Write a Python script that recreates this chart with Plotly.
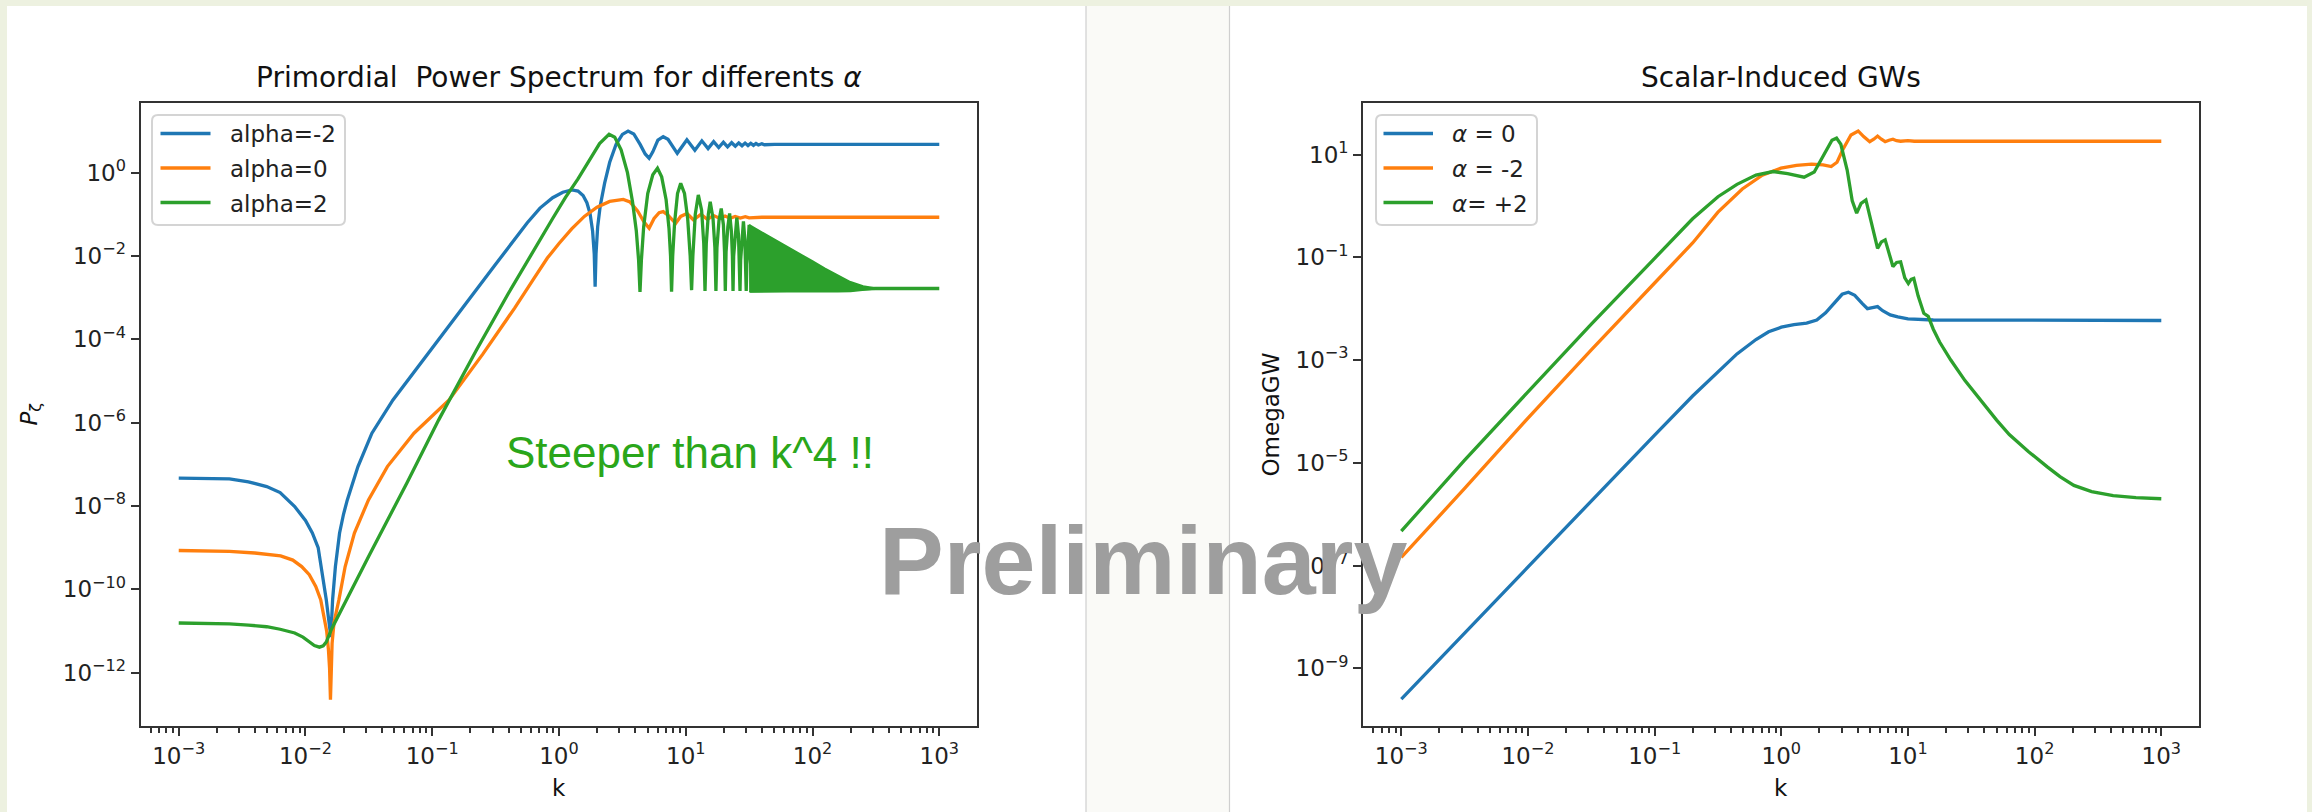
import math
import plotly.graph_objects as go

W, H = 2312, 812

# ---------------- Primordial power spectrum: log10(k), log10(P_zeta) ----------------
pz_am2_lk = [-3.0, -2.8, -2.6, -2.45, -2.306, -2.2, -2.085, -2.0, -1.946, -1.9, -1.875, -1.855,
             -1.836, -1.82, -1.808, -1.80, -1.793, -1.786, -1.764, -1.731, -1.70, -1.67, -1.586,
             -1.476, -1.31, -1.1, -0.9, -0.7, -0.5, -0.35, -0.25, -0.15, -0.05, 0.03, 0.102, 0.15,
             0.19, 0.22, 0.245, 0.265, 0.278, 0.285, 0.292, 0.305, 0.325, 0.36, 0.40, 0.45, 0.50,
             0.545, 0.59, 0.64, 0.68, 0.711, 0.74, 0.78, 0.822, 0.86, 0.9, 0.933,
             1.009, 1.072, 1.127, 1.176, 1.22, 1.26, 1.297, 1.33, 1.362, 1.391, 1.418, 1.444,
             1.468, 1.491, 1.513, 1.534, 1.554, 1.573, 1.6, 1.62, 1.7, 3.0]
pz_am2_lp = [-7.33, -7.335, -7.35, -7.42, -7.535, -7.68, -8.015, -8.35, -8.65, -9.0, -9.455, -9.85,
             -10.25, -10.65, -10.97, -11.15, -10.7, -10.25, -9.455, -8.65, -8.2, -7.855, -7.055,
             -6.254, -5.455, -4.6, -3.8, -3.0, -2.2, -1.6, -1.2, -0.85, -0.6, -0.47, -0.415, -0.44,
             -0.55, -0.72, -0.98, -1.4, -1.95, -2.74, -1.95, -1.3, -0.8, -0.25, 0.25, 0.68, 0.92,
             1.0, 0.93, 0.68, 0.45, 0.345, 0.5, 0.78, 0.864, 0.8, 0.6, 0.465,
             0.79, 0.54, 0.765, 0.58, 0.745, 0.605, 0.73, 0.62, 0.72, 0.635, 0.715, 0.645,
             0.71, 0.65, 0.705, 0.655, 0.70, 0.665, 0.695, 0.67, 0.68, 0.68]

pz_a0_lk = [-3.0, -2.8, -2.6, -2.4, -2.196, -2.1, -2.03, -1.97, -1.919, -1.88, -1.852, -1.833,
            -1.819, -1.81, -1.803, -1.797, -1.79, -1.775, -1.736, -1.687, -1.614, -1.503, -1.354,
            -1.144, -0.867, -0.6, -0.35, -0.2, -0.092, 0.0, 0.1, 0.2, 0.3, 0.4, 0.507, 0.56, 0.62,
            0.67, 0.711, 0.75, 0.79, 0.822, 0.86, 0.92, 0.96, 1.01, 1.06, 1.12, 1.17, 1.22, 1.27,
            1.31, 1.35, 1.39, 1.43, 1.47, 1.5, 1.6, 3.0]
pz_a0_lp = [-9.07, -9.075, -9.09, -9.13, -9.2, -9.3, -9.455, -9.65, -9.93, -10.25, -10.65, -11.0,
            -11.45, -11.9, -12.65, -11.9, -11.3, -10.8, -10.25, -9.455, -8.65, -7.855, -7.055,
            -6.254, -5.455, -4.35, -3.25, -2.55, -2.05, -1.7, -1.35, -1.05, -0.83, -0.69, -0.64,
            -0.7, -0.92, -1.18, -1.335, -1.1, -0.96, -0.935, -1.02, -1.215, -1.05, -0.98, -1.13,
            -1.0, -1.12, -1.03, -1.1, -1.04, -1.095, -1.05, -1.09, -1.055, -1.085, -1.07, -1.07]

pz_ap2_lk = [-3.0, -2.8, -2.6, -2.45, -2.306, -2.2, -2.085, -2.02, -1.974, -1.93, -1.89, -1.86,
             -1.836, -1.815, -1.797, -1.5, -1.2, -0.95, -0.65, -0.4, -0.2, -0.05, 0.05, 0.15, 0.25,
             0.32, 0.395, 0.44, 0.49, 0.54, 0.58, 0.61, 0.628, 0.639, 0.65, 0.668, 0.70, 0.74,
             0.777, 0.81, 0.845, 0.868, 0.88, 0.888, 0.897, 0.912, 0.935, 0.96, 0.99, 1.015,
             1.035, 1.046, 1.056, 1.075, 1.099, 1.125, 1.142, 1.152, 1.162, 1.178, 1.193, 1.215,
             1.23, 1.238, 1.246, 1.262, 1.28, 1.297, 1.306, 1.312, 1.318, 1.332, 1.346, 1.36,
             1.368, 1.373, 1.378, 1.39, 1.403, 1.416, 1.423, 1.428, 1.433, 1.444, 1.455, 1.466,
             1.472, 1.477, 1.482, 1.492, 1.5, 1.52, 2.5, 3.0]
pz_ap2_lp = [-10.81, -10.815, -10.83, -10.86, -10.9, -10.96, -11.05, -11.15, -11.26, -11.35,
             -11.39, -11.36, -11.27, -11.12, -10.97, -9.2, -7.45, -5.94, -4.25, -2.9, -1.85, -1.1,
             -0.6, -0.15, 0.35, 0.7, 0.92, 0.85, 0.55, 0.0, -0.7, -1.4, -2.1, -2.86, -2.1, -1.3,
             -0.5, -0.05, 0.105, -0.1, -0.65, -1.35, -2.0, -2.86, -2.0, -1.2, -0.5, -0.255, -0.5,
             -1.1, -2.0, -2.82, -2.0, -1.0, -0.535, -0.9, -1.7, -2.84, -1.7, -1.0, -0.70, -1.1,
             -1.8, -2.84, -1.8, -1.15, -0.86, -1.25, -1.9, -2.84, -1.9, -1.3, -0.98, -1.4,
             -2.0, -2.84, -2.0, -1.45, -1.08, -1.5, -2.1, -2.84, -2.1, -1.55, -1.17, -1.6,
             -2.2, -2.84, -2.2, -1.65, -1.25, -2.84, -2.78, -2.78]

# envelope of the unresolved fast oscillations of the alpha=2 curve
band_lk = [1.5, 1.6, 1.7, 1.8, 1.9, 2.0, 2.1, 2.2, 2.3, 2.4, 2.5]
band_hi = [-1.25, -1.42, -1.6, -1.78, -1.95, -2.12, -2.3, -2.47, -2.62, -2.72, -2.77]
band_lo = [-2.86, -2.86, -2.86, -2.86, -2.86, -2.86, -2.86, -2.86, -2.85, -2.82, -2.79]

# ---------------- Scalar-induced GWs: log10(k), log10(Omega_GW) ----------------
gw_a0_lk = [-3.0, -2.0, -1.0, -0.7, -0.5, -0.35, -0.2, -0.1, 0.0, 0.1, 0.2, 0.28, 0.35, 0.42,
            0.48, 0.53, 0.58, 0.64, 0.68, 0.72, 0.76, 0.8, 0.86, 0.92, 1.0, 1.2, 3.0]
gw_a0_lw = [-9.6, -7.02, -4.46, -3.7, -3.22, -2.88, -2.6, -2.45, -2.36, -2.31, -2.28, -2.22, -2.08,
            -1.88, -1.72, -1.68, -1.74, -1.9, -2.0, -1.98, -1.96, -2.04, -2.12, -2.16, -2.2, -2.22,
            -2.23]

gw_am2_lk = [-3.0, -2.5, -2.0, -1.5, -1.0, -0.7, -0.5, -0.308, -0.15, -0.003, 0.12, 0.24, 0.33,
             0.394, 0.44, 0.484, 0.55, 0.607, 0.65, 0.698, 0.73, 0.76, 0.79, 0.82, 0.85, 0.881,
             0.91, 0.942, 1.0, 1.05, 3.0]
gw_am2_lw = [-6.84, -5.5, -4.13, -2.8, -1.5, -0.72, -0.12, 0.33, 0.6, 0.735, 0.79, 0.813, 0.80,
             0.766, 0.85, 1.09, 1.38, 1.46, 1.35, 1.25, 1.3, 1.36, 1.3, 1.25, 1.28, 1.30, 1.27,
             1.26, 1.27, 1.26, 1.26]

gw_ap2_lk = [-3.0, -2.5, -2.0, -1.5, -1.0, -0.7, -0.5, -0.35, -0.2, -0.064, 0.05, 0.18, 0.26,
             0.34, 0.4, 0.436, 0.47, 0.52, 0.56, 0.595, 0.63, 0.668, 0.71, 0.76, 0.79, 0.82, 0.86,
             0.881, 0.91, 0.942, 0.975, 1.003, 1.025, 1.046, 1.08, 1.125, 1.16, 1.2, 1.25, 1.338,
             1.45, 1.58, 1.7, 1.8, 1.95, 2.1, 2.2, 2.31, 2.45, 2.62, 2.8, 3.0]
gw_ap2_lw = [-6.33, -4.95, -3.62, -2.3, -1.02, -0.25, 0.18, 0.42, 0.6, 0.67, 0.63, 0.56, 0.66,
             1.0, 1.28, 1.32, 1.2, 0.7, 0.1, -0.14, 0.05, 0.117, -0.3, -0.825, -0.7, -0.66, -1.0,
             -1.18, -1.1, -1.09, -1.4, -1.51, -1.43, -1.41, -1.75, -2.09, -2.15, -2.4, -2.65, -3.0,
             -3.4, -3.8, -4.17, -4.45, -4.78, -5.08, -5.27, -5.44, -5.56, -5.64, -5.68, -5.70]

pz_names = ["alpha=-2", "alpha=0", "alpha=2"]
gw_names = ["<i>\u03b1</i> = 0", "<i>\u03b1</i> = -2", "<i>\u03b1</i>= +2"]

BLUE, ORANGE, GREEN = "#1f77b4", "#ff7f0e", "#2ca02c"
LW = 3.3


def pw(vals):
    return [10 ** v for v in vals]


def sup_label(e):
    return "10<sup>" + (str(e) if e >= 0 else "\u2212" + str(-e)) + "</sup>"


def px(x):
    return x / W


def py(y):
    return 1 - y / H


fig = go.Figure()

# left panel
for lk, lp, col, name in [(pz_am2_lk, pz_am2_lp, BLUE, pz_names[0]),
                          (pz_a0_lk, pz_a0_lp, ORANGE, pz_names[1]),
                          (pz_ap2_lk, pz_ap2_lp, GREEN, pz_names[2])]:
    fig.add_trace(go.Scatter(x=pw(lk), y=pw(lp), mode="lines", name=name,
                             line=dict(color=col, width=LW), xaxis="x", yaxis="y"))
fig.add_trace(go.Scatter(x=pw(band_lk + band_lk[::-1]), y=pw(band_hi + band_lo[::-1]),
                         mode="lines", fill="toself", fillcolor=GREEN, name=pz_names[2],
                         line=dict(color=GREEN, width=1.5), hoverinfo="skip",
                         xaxis="x", yaxis="y"))

# right panel
for lk, lw, col, name in [(gw_a0_lk, gw_a0_lw, BLUE, gw_names[0]),
                          (gw_am2_lk, gw_am2_lw, ORANGE, gw_names[1]),
                          (gw_ap2_lk, gw_ap2_lw, GREEN, gw_names[2])]:
    fig.add_trace(go.Scatter(x=pw(lk), y=pw(lw), mode="lines", name=name,
                             line=dict(color=col, width=LW), xaxis="x2", yaxis="y2"))

AX = "#333333"
TICKFONT = dict(family="DejaVu Sans", size=23, color="#222222")
x_major = [10.0 ** e for e in range(-3, 4)]
x_minor = [m * 10.0 ** e for e in range(-4, 4) for m in range(2, 10)
           if -3.3 <= math.log10(m * 10.0 ** e) <= 3.3]


def xaxis_cfg(domain, anchor):
    return dict(type="log", domain=domain, range=[-3.3, 3.3], tickvals=x_major,
                ticktext=[sup_label(e) for e in range(-3, 4)], ticks="outside", ticklen=8,
                tickwidth=2, tickcolor=AX, showline=True, linecolor=AX, linewidth=2.2, mirror=True,
                showgrid=False, zeroline=False, tickfont=TICKFONT, anchor=anchor,
                minor=dict(tickvals=x_minor, ticks="outside", ticklen=4.6, tickwidth=1.6,
                           tickcolor=AX, showgrid=False))


def yaxis_cfg(domain, rng, exps, anchor):
    return dict(type="log", domain=domain, range=rng, tickvals=[10.0 ** e for e in exps],
                ticktext=[sup_label(e) for e in exps], ticks="outside", ticklen=8, tickwidth=2,
                tickcolor=AX, showline=True, linecolor=AX, linewidth=2.2, mirror=True,
                showgrid=False, zeroline=False, tickfont=TICKFONT, anchor=anchor)


Y_DOM = [py(726.3), py(102.7)]
xa1 = xaxis_cfg([px(140.7), px(977.3)], "y")
xa2 = xaxis_cfg([px(1363.3), px(2199.3)], "y2")
ya1 = yaxis_cfg(Y_DOM, [-13.29, 1.68], [0, -2, -4, -6, -8, -10, -12], "x")
ya2 = yaxis_cfg(Y_DOM, [-10.13, 2.01], [1, -1, -3, -5, -7, -9], "x2")


def rounded_box(x0, y0, x1, y1, r):
    """SVG path (paper coords) of a rounded rectangle given in pixel coords."""
    return (f"M {px(x0 + r)},{py(y0)} L {px(x1 - r)},{py(y0)} "
            f"Q {px(x1)},{py(y0)} {px(x1)},{py(y0 + r)} L {px(x1)},{py(y1 - r)} "
            f"Q {px(x1)},{py(y1)} {px(x1 - r)},{py(y1)} L {px(x0 + r)},{py(y1)} "
            f"Q {px(x0)},{py(y1)} {px(x0)},{py(y1 - r)} L {px(x0)},{py(y0 + r)} "
            f"Q {px(x0)},{py(y0)} {px(x0 + r)},{py(y0)} Z")


# slide backdrop: greenish frame, two white image panels and the gap between them
shapes = [
    dict(type="rect", xref="paper", yref="paper", x0=px(7), x1=px(1086), y0=0, y1=py(6),
         fillcolor="white", line=dict(width=0), layer="below"),
    dict(type="rect", xref="paper", yref="paper", x0=px(1086), x1=px(1229), y0=0, y1=py(6),
         fillcolor="#fafaf7", line=dict(width=0), layer="below"),
    dict(type="rect", xref="paper", yref="paper", x0=px(1229), x1=px(2307), y0=0, y1=py(6),
         fillcolor="white", line=dict(width=0), layer="below"),
    dict(type="line", xref="paper", yref="paper", x0=px(1086), x1=px(1086), y0=0, y1=py(6),
         line=dict(color="#cfcfcf", width=1.2), layer="below"),
    dict(type="line", xref="paper", yref="paper", x0=px(1229.5), x1=px(1229.5), y0=0, y1=py(6),
         line=dict(color="#cfcfcf", width=1.2), layer="below"),
]

LABEL_FONT = dict(family="DejaVu Sans", size=23, color="#111111")
annotations = []

# legends: framed box, line sample and label for each curve
ROWS = [133.5, 168, 202.5]
for (bx0, bx1, lx0, lx1, tx), names in [((152, 345, 160.5, 210.5, 228), pz_names),
                                        ((1376, 1537, 1383.5, 1433, 1450), gw_names)]:
    shapes.append(dict(type="path", xref="paper", yref="paper",
                       path=rounded_box(bx0, 115, bx1, 225, 6),
                       fillcolor="rgba(255,255,255,0.85)", line=dict(color="#d4d4d4", width=2),
                       layer="above"))
    for yrow, col, name in zip(ROWS, [BLUE, ORANGE, GREEN], names):
        shapes.append(dict(type="line", xref="paper", yref="paper", x0=px(lx0), x1=px(lx1),
                           y0=py(yrow), y1=py(yrow), line=dict(color=col, width=LW),
                           layer="above"))
        annotations.append(dict(text=name, x=px(tx), y=py(yrow + 1), xref="paper", yref="paper",
                                xanchor="left", yanchor="middle", showarrow=False,
                                font=dict(family="DejaVu Sans", size=23, color="#222222")))

annotations += [
    dict(text="Primordial \u00a0Power Spectrum for differents <i>\u03b1</i>", x=px(559),
         y=py(77), xref="paper", yref="paper", xanchor="center", yanchor="middle",
         showarrow=False, font=dict(family="DejaVu Sans", size=28, color="#111111")),
    dict(text="Scalar-Induced GWs", x=px(1781), y=py(77),
         xref="paper", yref="paper", xanchor="center", yanchor="middle", showarrow=False,
         font=dict(family="DejaVu Sans", size=28, color="#111111")),
    dict(text="k", x=px(559), y=py(788), xref="paper", yref="paper", xanchor="center",
         yanchor="middle", showarrow=False, font=LABEL_FONT),
    dict(text="k", x=px(1781), y=py(788), xref="paper", yref="paper", xanchor="center",
         yanchor="middle", showarrow=False, font=LABEL_FONT),
    dict(text="<i>P</i><sub>\u03b6</sub>", x=px(30), y=py(414.5), xref="paper", yref="paper",
         xanchor="center", yanchor="middle", textangle=-90, showarrow=False, font=LABEL_FONT),
    dict(text="OmegaGW", x=px(1270), y=py(414.5), xref="paper", yref="paper",
         xanchor="center", yanchor="middle", textangle=-90, showarrow=False, font=LABEL_FONT),
    dict(text="Steeper than k^4 !!", x=px(690), y=py(452), xref="paper", yref="paper",
         xanchor="center", yanchor="middle", showarrow=False,
         font=dict(family="Liberation Sans", size=44, color="#2aa61a")),
    dict(text="Preliminary", x=px(1142.5), y=py(560), xref="paper", yref="paper",
         xanchor="center", yanchor="middle", showarrow=False,
         font=dict(family="Liberation Sans", size=97, color="#9e9e9e", weight=700)),
]

fig.update_layout(
    width=W, height=H, margin=dict(l=0, r=0, t=0, b=0),
    paper_bgcolor="#edf1e0", plot_bgcolor="white",
    xaxis=xa1, yaxis=ya1, xaxis2=xa2, yaxis2=ya2,
    shapes=shapes, annotations=annotations, showlegend=False,
)

fig.write_html("out.html")
